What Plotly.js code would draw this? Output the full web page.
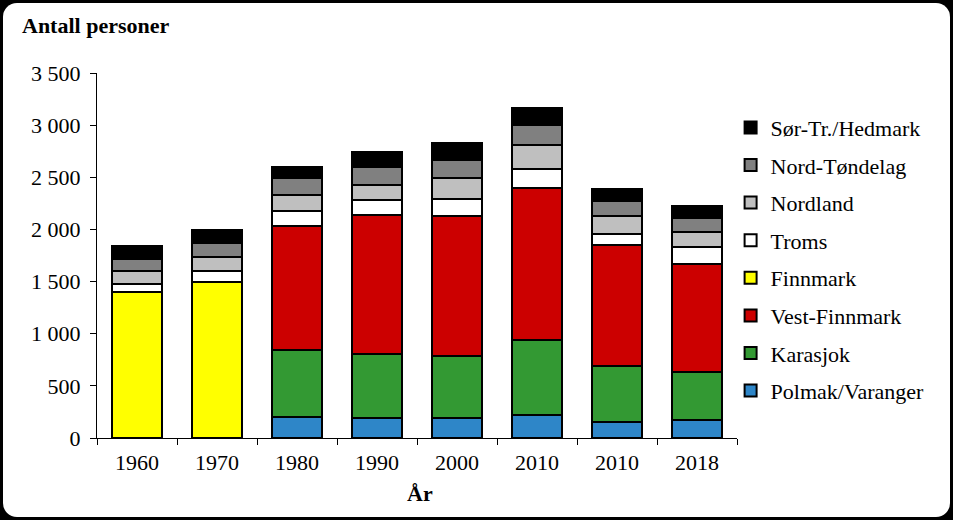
<!DOCTYPE html>
<html>
<head>
<meta charset="utf-8">
<script src="https://cdn.plot.ly/plotly-3.0.1.min.js"></script>
<style>
  body { margin: 0; background: #000; }
  #frame { position: relative; width: 953px; height: 520px; background: #000; }
  #card { position: absolute; left: 3px; top: 3px; width: 947px; height: 514px; background: #fff; border-radius: 14px; }
  #chart { position: absolute; left: 0; top: 0; width: 953px; height: 520px; }
</style>
</head>
<body>
<div id="frame"><div id="card"></div><div id="chart"></div></div>
<script>
const years = ['1960', '1970', '1980', '1990', '2000', '2010', '2010', '2018'];
// two columns are both labelled 2010, so keep unique keys for the category axis
const xKeys = years.map((y, i) => `${i}_${y}`);

const polmak = [null, null, 205, 195, 193, 224, 156, 169];
const karasjok = [null, null, 637, 606, 592, 714, 532, 462];
const vestFinnmark = [null, null, 1193, 1336, 1346, 1459, 1164, 1035];
const finnmark = [1400, 1500, null, null, null, null, null, null];
const troms = [75, 105, 144, 145, 160, 183, 109, 161];
const nordland = [125, 132, 151, 147, 202, 230, 164, 150];
const nordTrondelag = [112, 131, 160, 167, 173, 193, 144, 129];
const sorTrHedmark = [126, 128, 106, 144, 161, 160, 118, 115];

const series = [
  { name: 'Polmak/Varanger', values: polmak, color: '#2E86C8' },
  { name: 'Karasjok', values: karasjok, color: '#339933' },
  { name: 'Vest-Finnmark', values: vestFinnmark, color: '#CC0000' },
  { name: 'Finnmark', values: finnmark, color: '#FFFF00' },
  { name: 'Troms', values: troms, color: '#FFFFFF' },
  { name: 'Nordland', values: nordland, color: '#BFBFBF' },
  { name: 'Nord-Tøndelag', values: nordTrondelag, color: '#808080' },
  { name: 'Sør-Tr./Hedmark', values: sorTrHedmark, color: '#000000' },
];

const FONT = 'Liberation Serif, Times New Roman, serif';
const SIZE = 22;

// top of the stack is listed first in the legend
const traces = series.map((s, i) => ({
  type: 'bar',
  name: s.name,
  x: xKeys,
  y: s.values,
  legendgroup: s.name,
  legendrank: series.length - i,
  marker: { color: s.color, line: { color: '#000', width: 2 } },
  hoverinfo: 'x+y+name',
}));

const layout = {
  width: 953,
  height: 520,
  margin: { l: 97, r: 216, t: 73, b: 82 },
  paper_bgcolor: 'rgba(0,0,0,0)',
  plot_bgcolor: 'rgba(0,0,0,0)',
  barmode: 'stack',
  bargap: 0.375,
  separators: ', ',
  font: { family: FONT, size: SIZE, color: '#000' },
  showlegend: true,
  legend: {
    traceorder: 'grouped',
    tracegroupgap: 6,
    x: 0.99,
    xanchor: 'left',
    y: 0.908,
    yanchor: 'top',
    font: { family: FONT, size: SIZE },
    bgcolor: 'rgba(0,0,0,0)',
  },
  xaxis: {
    type: 'category',
    tickmode: 'array',
    tickvals: xKeys,
    ticktext: years,
    tickson: 'boundaries',
    ticks: 'outside',
    ticklen: 6,
    tickcolor: '#000',
    ticklabelstandoff: 5,
    showline: true,
    linecolor: '#000',
    linewidth: 1,
    showgrid: false,
    zeroline: false,
    fixedrange: true,
  },
  yaxis: {
    range: [0, 3500],
    dtick: 500,
    tickformat: ',d',
    ticks: 'outside',
    ticklen: 6,
    tickcolor: '#000',
    ticklabelstandoff: 5,
    showline: true,
    linecolor: '#000',
    linewidth: 1,
    showgrid: false,
    zeroline: false,
    fixedrange: true,
  },
  annotations: [
    {
      text: '<b>Antall personer</b>',
      xref: 'paper', yref: 'paper',
      x: -77 / 640, y: 1 + 48 / 365,
      xanchor: 'left', yanchor: 'middle',
      showarrow: false,
      font: { family: FONT, size: SIZE },
    },
    {
      text: '<b>År</b>',
      xref: 'paper', yref: 'paper',
      x: (420 - 97) / 640, y: -55 / 365,
      xanchor: 'center', yanchor: 'middle',
      showarrow: false,
      font: { family: FONT, size: SIZE },
    },
  ],
};

Plotly.newPlot('chart', traces, layout, { displayModeBar: false, staticPlot: true });
</script>
</body>
</html>
